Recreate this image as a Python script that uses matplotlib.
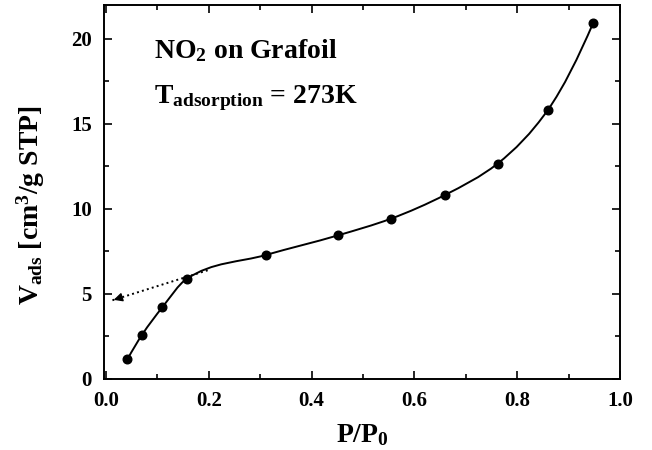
import numpy as np
import matplotlib
matplotlib.use("Agg")
import matplotlib.pyplot as plt
from matplotlib.path import Path
from matplotlib.patches import PathPatch
from matplotlib.ticker import MultipleLocator

# NO2 on Grafoil, 273 K isotherm
p_rel = [0.042, 0.0705, 0.110, 0.157, 0.311, 0.452, 0.554, 0.660, 0.762, 0.860, 0.948]
v_ads = [1.16, 2.60, 4.22, 5.88, 7.29, 8.45, 9.42, 10.83, 12.67, 15.84, 20.96]

# dotted tangent (start, end)
tangent_x = [0.198, 0.010]
tangent_y = [6.39, 4.60]

plt.rcParams['font.family'] = ['Liberation Serif', 'DejaVu Serif']
plt.rcParams['font.weight'] = 'bold'
plt.rcParams['mathtext.fontset'] = 'custom'
plt.rcParams['mathtext.rm'] = 'Liberation Serif:bold'
plt.rcParams['mathtext.it'] = 'Liberation Serif:bold'
plt.rcParams['mathtext.bf'] = 'Liberation Serif:bold'


def smooth_path(xs, ys):
    # hermite segments through the points, drawn as cubic beziers
    x = np.asarray(xs, float)
    y = np.asarray(ys, float)
    h = np.diff(x)
    d = np.diff(y) / h
    m = np.zeros_like(x)
    for i in range(1, len(x) - 1):
        # mostly harmonic (monotone) slope, a bit of three-point slope
        w1 = 2 * h[i] + h[i - 1]
        w2 = h[i] + 2 * h[i - 1]
        harm = (w1 + w2) / (w1 / d[i - 1] + w2 / d[i])
        three = (h[i] * d[i - 1] + h[i - 1] * d[i]) / (h[i - 1] + h[i])
        m[i] = 0.7 * harm + 0.3 * three
    m[0] = ((2 * h[0] + h[1]) * d[0] - h[0] * d[1]) / (h[0] + h[1])
    m[-1] = ((2 * h[-1] + h[-2]) * d[-1] - h[-1] * d[-2]) / (h[-1] + h[-2])
    verts = [(x[0], y[0])]
    codes = [Path.MOVETO]
    for i in range(len(x) - 1):
        verts += [(x[i] + h[i] / 3, y[i] + m[i] * h[i] / 3),
                  (x[i + 1] - h[i] / 3, y[i + 1] - m[i + 1] * h[i] / 3),
                  (x[i + 1], y[i + 1])]
        codes += [Path.CURVE4] * 3
    return Path(verts, codes)


fig = plt.figure(figsize=(6.52, 4.5), dpi=100)
ax = fig.add_axes([0.160, 0.158, 0.791, 0.831])

ax.add_patch(PathPatch(smooth_path(p_rel, v_ads), facecolor='none',
                       edgecolor='black', lw=1.4))
ax.plot(p_rel, v_ads, 'o', color='black', ms=6.2)

ax.plot(tangent_x, tangent_y, ':', color='black', lw=1.4)
ax.annotate('', xy=(tangent_x[1], tangent_y[1]),
            xytext=(tangent_x[1] + 0.025, tangent_y[1] + 0.24),
            arrowprops=dict(arrowstyle='-|>', color='black', lw=1.0,
                            mutation_scale=13))

ax.text(0.093, 18.9, r'NO$_2$ on Grafoil', fontsize=20, fontweight='bold')
ax.text(0.093, 16.25, r'T$_{\mathrm{adsorption}}$ = 273K', fontsize=20,
        fontweight='bold')

ax.set_xlim(-0.003, 1.0)
ax.set_ylim(0, 22)
ax.xaxis.set_major_locator(MultipleLocator(0.2))
ax.xaxis.set_minor_locator(MultipleLocator(0.1))
ax.yaxis.set_major_locator(MultipleLocator(5))
ax.yaxis.set_minor_locator(MultipleLocator(2.5))
ax.tick_params(which='both', direction='in', top=True, right=True,
               labelsize=15, width=1.2)
ax.tick_params(which='major', length=6)
ax.tick_params(which='minor', length=3.5)
ax.tick_params(axis='y', pad=9)
ax.tick_params(axis='x', pad=9)
for s in ax.spines.values():
    s.set_linewidth(1.4)

ax.set_xlabel(r'P/P$_0$', fontsize=20, fontweight='bold', labelpad=8)
ax.set_ylabel(r'V$_{\mathrm{ads}}$ [cm$^3$/g STP]', fontsize=20,
              fontweight='bold')
ax.yaxis.set_label_coords(-0.112, 0.465)

fig.savefig('out.png', dpi=100)
